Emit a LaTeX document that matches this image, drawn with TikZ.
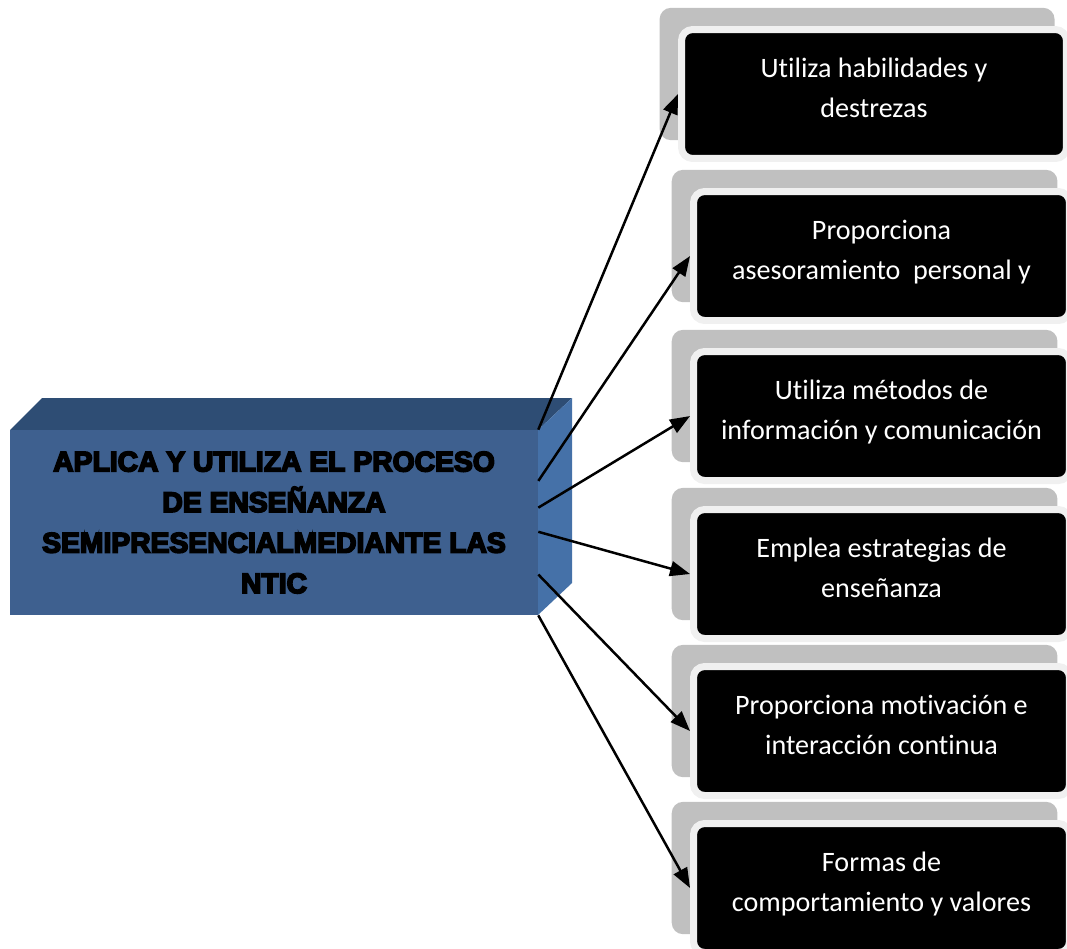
\documentclass[tikz,border=0pt]{standalone}
\usepackage{fontspec}
\usetikzlibrary{arrows.meta,calc,shadows}
\setmainfont{Carlito}[Ligatures=NoCommon]
\newfontfamily\blockschrift{Liberation Sans}[FakeBold=6,UprightFont=* Bold]
\definecolor{blau}{RGB}{62,96,143}
\definecolor{dunkelblau}{RGB}{46,77,116}
\definecolor{hellblau}{RGB}{69,113,168}
\definecolor{grau}{RGB}{192,192,192}
\definecolor{hellgrau}{RGB}{240,240,240}

\begin{document}
\begin{tikzpicture}[x=0.02cm, y=-0.02cm,
    kasten/.style={rectangle, rounded corners=0.22cm, fill=black, draw=hellgrau, line width=0.14cm,
        minimum width=7.52cm, minimum height=2.58cm, text=white, align=center, text depth=0.25cm,
        font=\fontsize{16}{22.8}\selectfont,
        drop shadow={shadow xshift=-0.33cm, shadow yshift=0.39cm, shadow scale=1.026, fill=grau, opacity=1}},
    pfeil/.style={-{Triangle[length=0.4cm,width=0.3cm]}, line width=0.05cm}]
    \useasboundingbox (0,0) rectangle (1067,948);

    % Quader (Oberseite und Seite)
    \fill[dunkelblau] (10,430) -- (42,398) -- (572,398) -- (538,430) -- cycle;
    \fill[hellblau] (538,430) -- (572,398) -- (572,583) -- (538,615) -- cycle;

    % Vorderseite mit Text
    \node[fill=blau, minimum width=10.56cm, minimum height=3.7cm, inner sep=0, align=center,
        font=\blockschrift\fontsize{16.1}{23.1}\selectfont] (block) at (274,522.5)
        {APLICA Y UTILIZA EL PROCESO\\DE ENSEÑANZA\\SEMIPRESENCIALMEDIANTE LAS\\NTIC};

    % Kaesten
    \node[kasten, minimum width=7.7cm] (k1) at (874,94) {Utiliza habilidades y\\destrezas};
    \node[kasten] (k2) at (881.5,256) {Proporciona\\asesoramiento\ \ personal y};
    \node[kasten] (k3) at (881.5,416) {Utiliza métodos de\\información y comunicación};
    \node[kasten] (k4) at (881.5,574) {Emplea estrategias de\\enseñanza};
    \node[kasten] (k5) at (881.5,731) {Proporciona motivación e\\interacción continua};
    \node[kasten] (k6) at (881.5,888) {Formas de\\comportamiento y valores};

    % Startpunkte am Quader
    \coordinate (a1) at (block.north east);
    \coordinate (a2) at ($(block.north east)!0.276!(block.south east)$);
    \coordinate (a3) at ($(block.north east)!0.42!(block.south east)$);
    \coordinate (a4) at ($(block.north east)!0.55!(block.south east)$);
    \coordinate (a5) at ($(block.north east)!0.78!(block.south east)$);
    \coordinate (a6) at (block.south east);

    % Pfeile
    \draw[pfeil] (a1) -- (k1.west);
    \draw[pfeil] (a2) -- (k2.west);
    \draw[pfeil] (a3) -- (k3.west);
    \draw[pfeil] (a4) -- (k4.west);
    \draw[pfeil] (a5) -- (k5.west);
    \draw[pfeil] (a6) -- (k6.west);
\end{tikzpicture}
\end{document}
